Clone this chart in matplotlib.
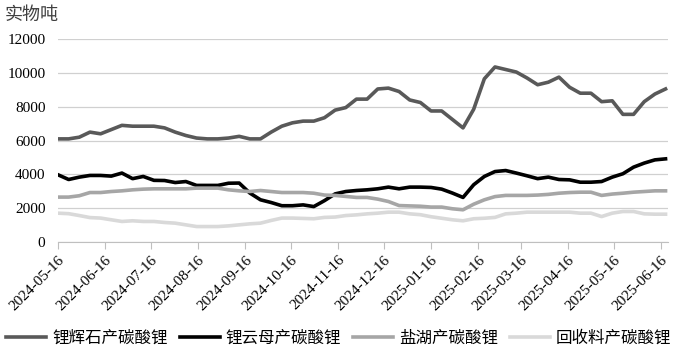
import matplotlib
matplotlib.use("Agg")
import matplotlib.pyplot as plt
import matplotlib.dates as mdates
import pandas as pd

plt.rcParams['font.family'] = ['Liberation Serif', 'Noto Sans CJK SC']

# weekly observations, Thursdays
dates = pd.date_range('2024-05-16', periods=58, freq='7D')

spodumene = [6100, 6100, 6200, 6500, 6400, 6650, 6900, 6850, 6850, 6850,
             6750, 6500, 6300, 6150, 6100, 6100, 6150, 6250, 6100, 6100,
             6500, 6850, 7050, 7150, 7150, 7350, 7800, 7950, 8450, 8450,
             9050, 9100, 8900, 8400, 8250, 7750, 7750, 7250, 6750, 7850,
             9650, 10350, 10200, 10050, 9700, 9300, 9450, 9750, 9150, 8800,
             8800, 8300, 8350, 7550, 7550, 8300, 8750, 9050]
lepidolite = [3980, 3700, 3840, 3940, 3940, 3900, 4080, 3750, 3880, 3650,
              3640, 3520, 3580, 3350, 3350, 3350, 3480, 3490, 2900, 2500,
              2340, 2150, 2150, 2200, 2100, 2450, 2850, 2990, 3050, 3090,
              3150, 3250, 3150, 3250, 3250, 3230, 3130, 2900, 2640, 3390,
              3880, 4170, 4230, 4080, 3920, 3750, 3840, 3700, 3680, 3540,
              3540, 3580, 3840, 4040, 4430, 4670, 4860, 4920]
salt_lake = [2660, 2660, 2740, 2930, 2930, 2990, 3030, 3090, 3130, 3150,
             3150, 3150, 3150, 3190, 3190, 3190, 3090, 3030, 2990, 3050,
             2990, 2930, 2930, 2930, 2890, 2780, 2760, 2700, 2640, 2640,
             2540, 2400, 2160, 2140, 2120, 2070, 2070, 1970, 1910, 2240,
             2500, 2690, 2760, 2760, 2760, 2780, 2820, 2890, 2930, 2950,
             2950, 2760, 2840, 2890, 2950, 2990, 3030, 3030]
recycled = [1710, 1680, 1570, 1450, 1420, 1320, 1220, 1260, 1220, 1220,
            1160, 1120, 1020, 920, 920, 920, 960, 1020, 1080, 1120,
            1280, 1420, 1420, 1400, 1380, 1460, 1480, 1570, 1610, 1670,
            1710, 1770, 1770, 1670, 1620, 1500, 1410, 1320, 1260, 1380,
            1410, 1460, 1670, 1710, 1770, 1770, 1770, 1770, 1770, 1710,
            1710, 1510, 1710, 1810, 1810, 1670, 1650, 1650]

names = ['锂辉石产碳酸锂', '锂云母产碳酸锂', '盐湖产碳酸锂', '回收料产碳酸锂']
colors = ['#595959', '#000000', '#A6A6A6', '#D9D9D9']

fig = plt.figure(figsize=(6.78, 3.55), dpi=100)
ax = fig.add_axes([0.0855, 0.318, 0.8995, 0.572])

for series, name, c in zip([spodumene, lepidolite, salt_lake, recycled], names, colors):
    ax.plot(dates, series, color=c, lw=2.6, label=name, solid_joinstyle='round')

ax.set_ylim(0, 12000)
ax.set_yticks(range(0, 12001, 2000))
ax.set_xlim(pd.Timestamp('2024-05-16'), pd.Timestamp('2025-06-20 12:00'))
ticks = [pd.Timestamp('2024-05-16') + pd.DateOffset(months=k) for k in range(14)]
ax.set_xticks(ticks)
ax.xaxis.set_major_formatter(mdates.DateFormatter('%Y-%m-%d'))
plt.setp(ax.get_xticklabels(), rotation=45, ha='right', rotation_mode='anchor')

ax.grid(axis='y', color='#D0D0D0', lw=0.9)
ax.set_axisbelow(True)
for s in ['top', 'right', 'left']:
    ax.spines[s].set_visible(False)
ax.spines['bottom'].set_color('#BFBFBF')
ax.tick_params(axis='y', length=0, labelsize=11, pad=9)
ax.tick_params(axis='x', length=5, color='#BFBFBF', labelsize=11, pad=3)

fig.text(0.007, 0.955, '实物吨', fontsize=13, color='#404040', va='center')

fig.legend(loc='center left', bbox_to_anchor=(6 / 678, 0.047), ncol=4, frameon=False,
           fontsize=11.9, handlelength=2.42, handletextpad=0.36, columnspacing=0.73,
           borderpad=0, borderaxespad=0)

fig.savefig('out.png', dpi=100)
